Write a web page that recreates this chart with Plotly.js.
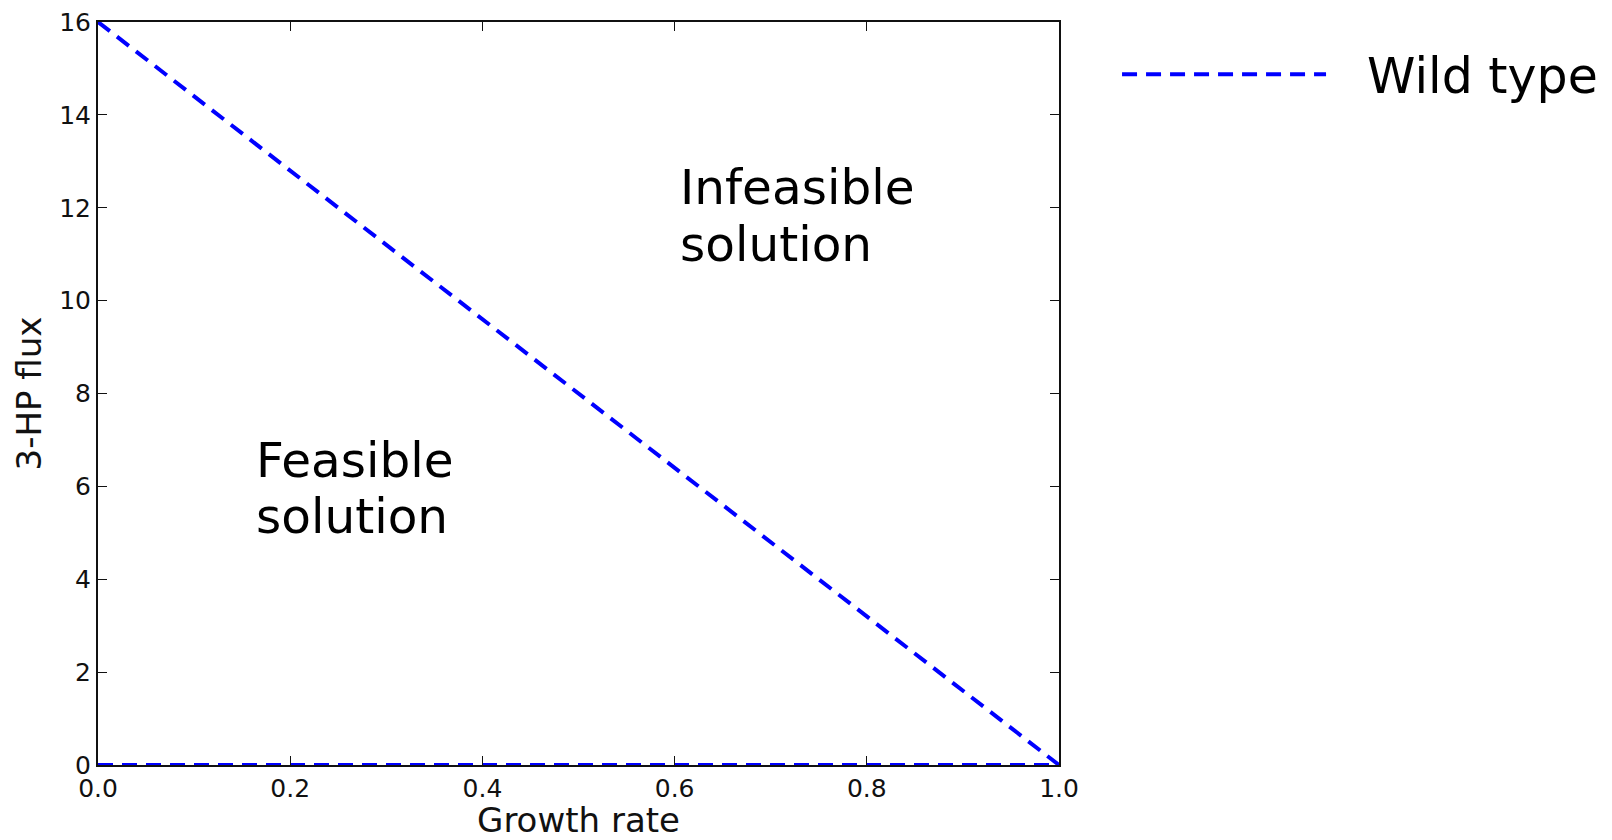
<!DOCTYPE html>
<html>
<head>
<meta charset="utf-8">
<script src="https://cdn.plot.ly/plotly-3.0.1.min.js"></script>
<style>html,body{margin:0;padding:0;background:#fff;}#chart{width:1612px;height:840px;}</style>
</head>
<body>
<div id="chart"></div>
<script>
// Data
const growthRate = [0.0, 1.0];
const maxFlux = [16, 0];
const minFluxX = [0.0, 1.0];
const minFlux = [0, 0];
const seriesName = "Wild type";
const xTitle = "Growth rate";
const yTitle = "3-HP flux";
const xTicks = [0.0, 0.2, 0.4, 0.6, 0.8, 1.0];
const yTicks = [0, 2, 4, 6, 8, 10, 12, 14, 16];
const regionLabels = [
  {text: "Infeasible", x: 0.6037, y: 12.45},
  {text: "solution", x: 0.6037, y: 11.22},
  {text: "Feasible", x: 0.1622, y: 6.57},
  {text: "solution", x: 0.1622, y: 5.37}
];

const FONT = "DejaVu Sans, Verdana, sans-serif";
const blue = "#0000ff";
const GAP = "\u00a0\u00a0\u200a";

const traces = [
  {x: growthRate, y: maxFlux, mode: "lines", name: GAP + seriesName,
   line: {color: blue, width: 4, dash: "15px,9px"}},
  {x: minFluxX, y: minFlux, mode: "lines", name: seriesName, showlegend: false,
   line: {color: blue, width: 4, dash: "15px,9px"}}
];

const axisCommon = {
  showline: true, linecolor: "#111", linewidth: 2, mirror: "ticks",
  ticks: "inside", ticklen: 9, tickwidth: 1, tickcolor: "#111",
  showgrid: false, zeroline: false, automargin: true,
  tickfont: {family: FONT, size: 25, color: "#111"}
};

const layout = {
  width: 1612, height: 840,
  paper_bgcolor: "#fff", plot_bgcolor: "#fff",
  margin: {l: 98, r: 553, t: 22, b: 75, autoexpand: false},
  font: {family: FONT},
  xaxis: Object.assign({}, axisCommon, {
    range: [0, 1], tickvals: xTicks, ticktext: xTicks.map(v => v.toFixed(1)),
    title: {text: xTitle, font: {family: FONT, size: 34, color: "#111"}, standoff: 17}
  }),
  yaxis: Object.assign({}, axisCommon, {
    range: [0, 16], tickvals: yTicks, ticktext: yTicks.map(String),
    title: {text: yTitle, font: {family: FONT, size: 34, color: "#111"}, standoff: 7}
  }),
  showlegend: true,
  legend: {
    x: 1.0604, xanchor: "left", y: 0.9813, yanchor: "top",
    font: {family: FONT, size: 49, color: "#000"},
    itemwidth: 204, bgcolor: "rgba(0,0,0,0)", borderwidth: 0
  },
  annotations: regionLabels.map(l => ({
    x: l.x, y: l.y, xref: "x", yref: "y", text: l.text,
    showarrow: false, xanchor: "left", yanchor: "middle", align: "left",
    font: {family: FONT, size: 48.5, color: "#000"}
  }))
};

Plotly.newPlot("chart", traces, layout, {displayModeBar: false, staticPlot: true});
</script>
</body>
</html>
